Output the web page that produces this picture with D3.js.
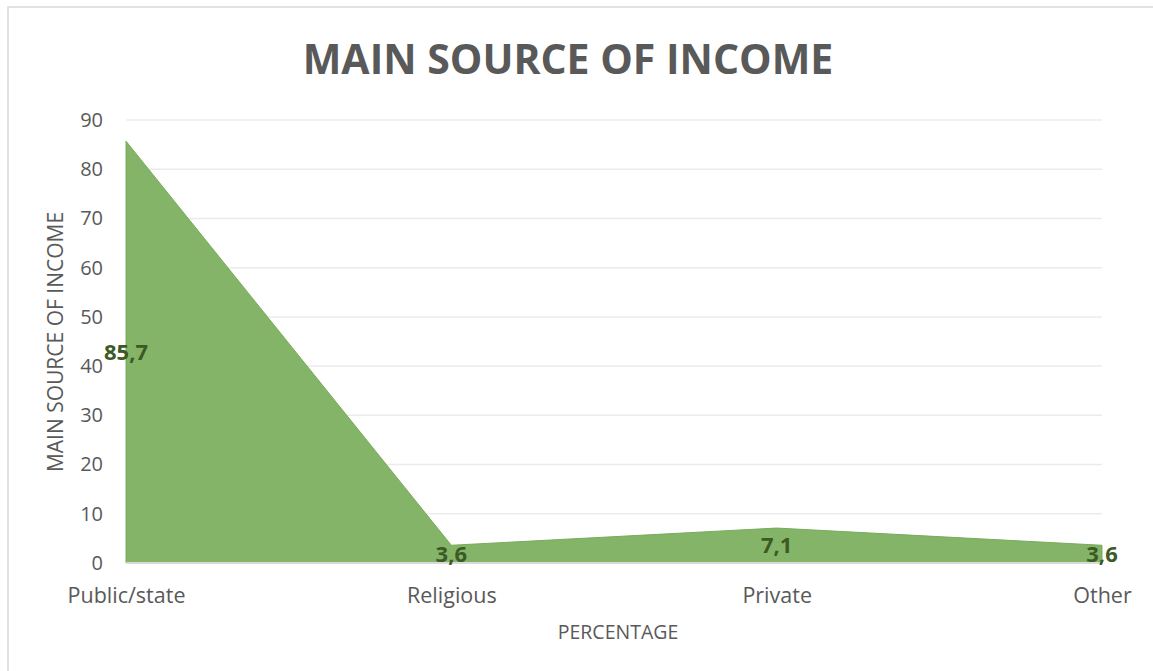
<!DOCTYPE html>
<html>
<head>
<meta charset="utf-8">
<script src="https://cdn.jsdelivr.net/npm/d3@7"></script>
<style>
  body { margin: 0; background: #fff; }
  svg { display: block; font-family: "Open Sans", sans-serif; }
</style>
</head>
<body>
<svg id="chart"></svg>
<script>
const categories = ["Public/state", "Religious", "Private", "Other"];
const values = [85.7, 3.6, 7.1, 3.6];
const yTicks = [0, 10, 20, 30, 40, 50, 60, 70, 80, 90];

const W = 1153, H = 671;
const margin = { top: 120, right: 51, bottom: 108, left: 126 },
    width = W - margin.left - margin.right,
    height = H - margin.top - margin.bottom;

const svgRoot = d3.select("#chart")
    .attr("width", W)
    .attr("height", H);

// chart border
svgRoot.append("rect")
    .attr("x", 8).attr("y", 7)
    .attr("width", W + 20).attr("height", H + 20)
    .attr("fill", "none")
    .attr("stroke", "#d9d9d9")
    .attr("stroke-width", 1.5);

const svg = svgRoot.append("g")
    .attr("transform", `translate(${margin.left},${margin.top})`);

const x = d3.scalePoint()
    .domain(categories)
    .range([0, width]);

const y = d3.scaleLinear()
    .domain([0, 90])
    .range([height, 0]);

// gridlines
svg.append("g")
  .selectAll("line")
  .data(yTicks.slice(1))
  .join("line")
    .attr("x1", 0).attr("x2", width)
    .attr("y1", d => y(d)).attr("y2", d => y(d))
    .attr("stroke", "#ebebeb")
    .attr("stroke-width", 1.5);

// area
const data = categories.map((c, i) => ({ cat: c, value: values[i] }));
const area = d3.area()
    .x(d => x(d.cat))
    .y0(y(0))
    .y1(d => y(d.value));

svg.append("path")
    .datum(data)
    .attr("d", area)
    .attr("fill", "#84b468")
    .attr("stroke", "#78ab5a")
    .attr("stroke-width", 1);

// x axis line
svg.append("line")
    .attr("x1", 0).attr("x2", width)
    .attr("y1", y(0)).attr("y2", y(0))
    .attr("stroke", "#d9d9d9")
    .attr("stroke-width", 2);

// y axis
const yAxis = svg.append("g")
    .attr("transform", "translate(-23,0)")
    .call(d3.axisLeft(y).tickValues(yTicks).tickSize(0).tickPadding(0));
yAxis.select(".domain").remove();
yAxis.selectAll("text")
    .attr("fill", "#595959")
    .style("font-size", "20px")
    .style("font-family", "Open Sans, sans-serif");

// x axis labels
const xAxis = svg.append("g")
    .attr("transform", `translate(0,${height})`)
    .call(d3.axisBottom(x).tickSize(0).tickPadding(0));
xAxis.select(".domain").remove();
xAxis.selectAll("text")
    .attr("dy", null)
    .attr("y", 40)
    .attr("fill", "#595959")
    .style("font-size", "21.5px")
    .style("font-family", "Open Sans, sans-serif");

// data labels
svg.append("g")
  .selectAll("text")
  .data(data)
  .join("text")
    .attr("x", d => x(d.cat))
    .attr("y", d => y(d.value / 2))
    .attr("dy", "0.35em")
    .attr("text-anchor", "middle")
    .attr("fill", "#3b5a24")
    .style("font-size", "22px")
    .style("font-weight", "bold")
    .text(d => String(d.value).replace(".", ","));

// title
svgRoot.append("text")
    .attr("x", 568)
    .attr("y", 74)
    .attr("text-anchor", "middle")
    .attr("fill", "#595959")
    .style("font-size", "41px")
    .style("font-weight", "bold")
    .text("MAIN SOURCE OF INCOME");

// axis titles
svgRoot.append("text")
    .attr("x", 618)
    .attr("y", 639)
    .attr("text-anchor", "middle")
    .attr("fill", "#595959")
    .style("font-size", "19.5px")
    .text("PERCENTAGE");

svgRoot.append("text")
    .attr("transform", "translate(63,342) rotate(-90)")
    .attr("text-anchor", "middle")
    .attr("fill", "#595959")
    .style("font-size", "21px")
    .text("MAIN SOURCE OF INCOME");
</script>
</body>
</html>
